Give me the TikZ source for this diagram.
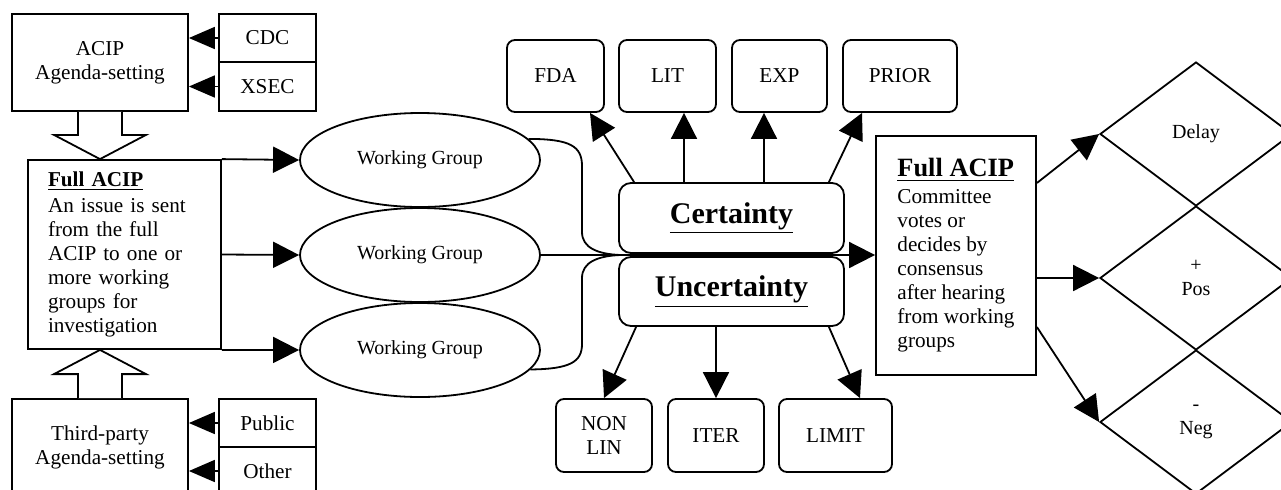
\documentclass[tikz,border=0pt]{standalone}
\usepackage{fontspec}
\setmainfont{Liberation Serif}
\usetikzlibrary{shapes.geometric,arrows.meta,calc}
\begin{document}
\begin{tikzpicture}[x=0.5pt,y=-0.5pt,line width=0.9pt,
  every node/.style={font=\fontsize{10.6}{12}\selectfont},
  box/.style={draw,rectangle,inner sep=0pt,align=center},
  rbox/.style={draw,rectangle,rounded corners=4pt,inner sep=0pt,align=center},
  cbox/.style={draw,rectangle,rounded corners=6pt,inner sep=0pt,align=center,font=\fontsize{15}{18}\selectfont\bfseries},
  wg/.style={draw,ellipse,inner sep=0pt,minimum width=120pt,minimum height=47pt,font=\fontsize{10}{12}\selectfont},
  dia/.style={draw,diamond,inner sep=0pt,minimum width=96pt,minimum height=72pt,align=center,font=\fontsize{10}{12}\selectfont},
  arr/.style={-{Triangle[length=13pt,width=13pt]}},
  sarr/.style={-{Triangle[length=13pt,width=11pt]}},
  blockarrow/.style={draw,fill=white}]
\clip (0,0) rectangle (1281,489);
% left column
\node[box,minimum width=88pt,minimum height=48.5pt] (acip) at (100,62.5) {ACIP\\Agenda-setting};
\node[box,minimum width=48.5pt,minimum height=24pt] (cdc) at (267.5,38) {CDC};
\node[box,minimum width=48.5pt,minimum height=24.5pt] (xsec) at (267.5,86.5) {XSEC};
\node[box,minimum width=96.5pt,minimum height=94.5pt,text width=76.5pt,align=left] (full1) at (124.5,254.5)
  {\underline{\textbf{Full ACIP}}\\[1pt]An issue is sent\\from the full\\ACIP to one or\\more working\\groups for\\investigation};
\node[box,minimum width=88pt,minimum height=48.5pt] (tp) at (100,447.5) {Third-party\\Agenda-setting};
\node[box,minimum width=48.5pt,minimum height=24pt] (public) at (267.5,423) {Public};
\node[box,minimum width=48.5pt,minimum height=24pt] (other) at (267.5,471) {Other};
% block arrows
\draw[blockarrow] ($(acip.south)+(-22,0)$) -- ++(0,23) -- ++(-24,0) -- (acip.south |- full1.north)
  -- ($(acip.south)+(46,23)$) -- ++(-24,0) -- ++(0,-23);
\draw[blockarrow] ($(tp.north)+(-22,0)$) -- ++(0,-24) -- ++(-24,0) -- (tp.north |- full1.south)
  -- ($(tp.north)+(46,-24)$) -- ++(-24,0) -- ++(0,24);
\draw[sarr] (cdc.west) -- (cdc.west -| acip.east);
\draw[sarr] (xsec.west) -- (xsec.west -| acip.east);
\draw[sarr] (public.west) -- (public.west -| tp.east);
\draw[sarr] (other.west) -- (other.west -| tp.east);
% working groups
\node[wg] (wg1) at (420,160) {Working Group};
\node[wg] (wg2) at (420,255) {Working Group};
\node[wg] (wg3) at (420,350) {Working Group};
\draw[arr] (full1.north east) -- (wg1.west);
\draw[arr] (full1.east) -- (wg2.west);
\draw[arr] (full1.south east) -- (wg3.west);
% certainty
\node[cbox,minimum width=112.5pt,minimum height=35pt] (cert) at (731.5,218) {\underline{Certainty}};
\node[cbox,minimum width=112.5pt,minimum height=34.5pt] (unc) at (731.5,291.5) {\underline{Uncertainty}};
\coordinate (bj) at (620,255);
% top and bottom boxes
\node[rbox,minimum width=48.5pt,minimum height=36pt] (fda) at (555.5,76) {FDA};
\node[rbox,minimum width=48.5pt,minimum height=36pt] (lit) at (667.5,76) {LIT};
\node[rbox,minimum width=47.5pt,minimum height=36pt] (exp) at (779.5,76) {EXP};
\node[rbox,minimum width=57pt,minimum height=36pt] (prior) at (900,76) {PRIOR};
\node[rbox,minimum width=48pt,minimum height=36.5pt] (nonlin) at (604,435.5) {NON\\LIN};
\node[rbox,minimum width=48pt,minimum height=36.5pt] (iter) at (716,435.5) {ITER};
\node[rbox,minimum width=56.5pt,minimum height=36.5pt] (limit) at (835.5,435.5) {LIMIT};
% right side
\node[box,minimum width=80pt,minimum height=119.5pt,align=left] (full2) at (956,255.5)
  {{\fontsize{13.2}{15}\selectfont\underline{\textbf{Full ACIP}}}\\[1.5pt]Committee\\votes or\\decides by\\consensus\\after hearing\\from working\\groups};
\node[dia] (delay) at (1196,134) {Delay};
\node[dia] (pos) at (1196,278) {+\\Pos};
\node[dia] (neg) at (1196,422) {-\\Neg};
% brace
\draw (wg1.11) .. controls (570,139) and (582,146) .. (582,166) -- (582,232) .. controls (582,248) and (598,254) .. (bj);
\draw (wg3.-10) .. controls (570,369) and (582,362) .. (582,344) -- (582,278) .. controls (582,262) and (598,256) .. (bj);
\draw[arr] (wg2.east) -- (bj) -- (bj -| full2.west);
% certainty arrows
\draw[arr] ([xshift=8pt]cert.north west) -- ([xshift=17.25pt]fda.south);
\draw[arr] ([xshift=-23.75pt]cert.north) -- ([xshift=-23.75pt]cert.north |- lit.south);
\draw[arr] ([xshift=16.25pt]cert.north) -- ([xshift=16.25pt]cert.north |- exp.south);
\draw[arr] ([xshift=-8pt]cert.north east) -- ([xshift=-19pt]prior.south);
\draw[arr] ([xshift=9pt]unc.south west) -- (nonlin.north);
\draw[arr] ([xshift=-7.75pt]unc.south) -- ([xshift=-7.75pt]unc.south |- iter.north);
\draw[arr] ([xshift=-8pt]unc.south east) -- ([xshift=12.25pt]limit.north);
% decision arrows
\draw[arr] ([yshift=36.25pt]full2.east) -- (delay.west);
\draw[arr] ([yshift=-11.25pt]full2.east) -- (pos.west);
\draw[arr] ([yshift=-35.75pt]full2.east) -- (neg.west);
\end{tikzpicture}
\end{document}
